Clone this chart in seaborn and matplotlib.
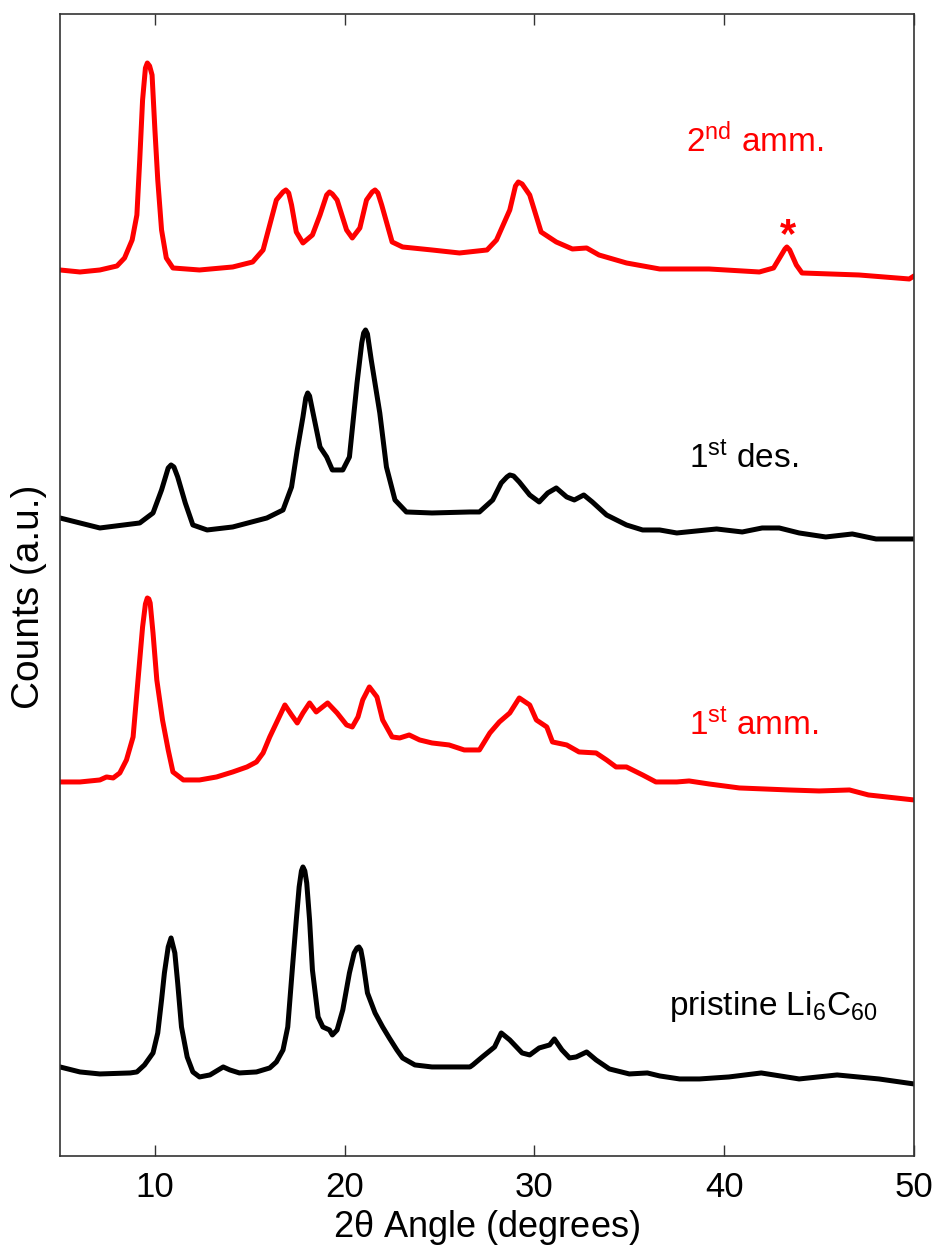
import numpy as np
import pandas as pd
import matplotlib
matplotlib.use("Agg")
import matplotlib.pyplot as plt
import seaborn as sns

# --- data (2theta in degrees, counts in arbitrary units) ---

theta_2nd_amm = [5.0, 6.05, 7.1, 8.0, 8.4, 8.8, 9.05, 9.2, 9.35, 9.5, 9.6, 9.72, 9.85, 10.0, 10.15,
                 10.35, 10.6, 10.95, 12.35, 14.1, 15.15, 15.7, 16.05, 16.4, 16.75, 16.9, 17.05,
                 17.2, 17.45, 17.8, 18.3, 18.7, 19.05, 19.2, 19.35, 19.6, 20.1, 20.4, 20.8, 21.15,
                 21.45, 21.6, 21.75, 21.95, 22.5, 23.05, 24.6, 26.05, 27.5, 28.0, 28.7, 29.0, 29.15,
                 29.35, 29.75, 30.35, 31.15, 32.0, 32.75, 33.4, 34.85, 36.6, 39.2, 41.85, 42.6,
                 43.2, 43.3, 43.45, 43.8, 44.1, 47.1, 49.75, 50.0]
counts_2nd_amm = [886, 884, 886, 890, 898, 916, 941, 996, 1056, 1088, 1093, 1090, 1081, 1026, 976,
                  926, 898, 888, 886, 889, 894, 906, 931, 956, 964, 966, 963,
                  951, 924, 913, 921, 941, 961, 964, 962, 956, 926, 918, 928, 956,
                  964, 966, 963, 951, 914, 909, 906, 903, 906, 916, 946, 970, 974,
                  972, 961, 924, 914, 907, 908, 901, 893, 887, 887, 884, 888,
                  907, 909, 906, 891, 883, 881, 877, 880]

theta_1st_des = [5.0, 7.1, 9.2, 9.9, 10.35, 10.7, 10.85, 11.0, 11.2, 11.6, 12.0, 12.75, 14.1, 15.9,
                 16.75, 17.2, 17.5, 17.8, 17.95, 18.05, 18.15, 18.3, 18.7, 19.05, 19.35, 19.9,
                 20.25, 20.65, 20.9, 21.0, 21.1, 21.2, 21.4, 21.85, 22.2, 22.65, 23.25, 24.6,
                 26.6, 27.1, 27.8, 28.25, 28.55, 28.7, 28.9, 29.2, 29.75, 30.25, 30.7, 31.15,
                 31.7, 32.1, 32.6, 33.05, 33.8, 34.85, 35.7, 36.6, 37.5, 39.6, 40.95, 42.0,
                 42.9, 43.95, 45.35, 46.75, 48.0, 50.0]
counts_1st_des = [638, 628, 633, 643, 666, 688, 691, 689, 679, 653, 631, 626, 629, 638,
                  646, 669, 706, 739, 758, 763, 760, 746, 709, 699, 686, 686,
                  699, 773, 813, 823, 826, 822, 796, 743, 689, 656, 644, 643,
                  644, 644, 656, 673, 679, 681, 680, 674, 661, 654, 663, 668,
                  659, 656, 661, 654, 641, 631, 626, 626, 623, 627, 624, 628,
                  628, 623, 619, 622, 617, 617]

theta_1st_amm = [5.0, 6.05, 7.1, 7.45, 7.8, 8.15, 8.5, 8.85, 9.05, 9.2, 9.35, 9.5, 9.6, 9.68,
                 9.75, 9.9, 10.1, 10.4, 10.7, 10.95, 11.5, 12.35, 13.25, 14.1, 14.85, 15.35, 15.7,
                 16.05, 16.4, 16.85, 17.2, 17.5, 17.8, 18.15, 18.5, 19.1, 19.6, 20.1, 20.4, 20.7,
                 20.95, 21.3, 21.7, 22.0, 22.5, 22.9, 23.4, 23.95, 24.6, 25.5, 26.3, 27.1,
                 27.65, 28.15, 28.7, 29.2, 29.75, 30.1, 30.65, 30.95, 31.7, 32.35, 33.25, 33.8,
                 34.3, 34.85, 35.7, 36.4, 37.5, 38.15, 39.2, 40.8, 43.4, 45.0, 46.6, 47.6, 50.0]
counts_1st_amm = [374, 374, 376, 379, 378, 383, 396, 419, 463, 496, 529, 552, 558, 557,
                  553, 523, 476, 436, 406, 384, 376, 376, 379, 384, 389, 394, 403,
                  419, 433, 451, 441, 433, 443, 453, 444, 453, 443, 431, 429, 439,
                  456, 469, 459, 436, 419, 418, 421, 416, 413, 411, 406, 406,
                  423, 434, 443, 458, 451, 436, 429, 414, 411, 404, 403, 396,
                  389, 389, 381, 374, 374, 375, 372, 368, 366, 365, 366, 361, 356]

theta_pristine = [5.0, 6.05, 7.1, 8.7, 9.05, 9.45, 9.9, 10.15, 10.35, 10.5, 10.7, 10.85, 11.05,
                  11.2, 11.4, 11.7, 12.0, 12.35, 12.9, 13.6, 13.95, 14.45, 15.35, 16.05, 16.4,
                  16.75, 17.0, 17.25, 17.45, 17.6, 17.72, 17.8, 17.9, 18.0, 18.15, 18.3, 18.6,
                  18.85, 19.2, 19.35, 19.6, 19.9, 20.25, 20.5, 20.65, 20.75, 20.85, 20.95, 21.2,
                  21.6, 22.0, 22.35, 22.75, 23.05, 23.7, 24.6, 26.6, 26.75, 27.25, 27.9, 28.25,
                  28.7, 29.35, 29.75, 30.25, 30.8, 31.05, 31.45, 31.85, 32.2, 32.75, 33.25,
                  33.95, 35.0, 35.95, 36.6, 37.65, 38.7, 40.25, 41.95, 43.95, 45.95, 48.15, 50.0]
counts_pristine = [89, 84, 82, 83, 84, 91, 103, 123, 156, 183, 209, 218, 203,
                   173, 129, 99, 84, 79, 81, 89, 86, 83, 84, 88, 94,
                   106, 129, 189, 236, 269, 285, 289, 285, 273, 236, 186, 139,
                   129, 126, 121, 126, 146, 183, 203, 208, 209, 206, 196, 163,
                   143, 129, 118, 106, 98, 91, 89, 89, 91, 99, 109, 123,
                   116, 103, 101, 108, 111, 117, 106, 98, 99, 104, 96,
                   87, 82, 83, 80, 77, 77, 79, 83, 77, 81, 77, 72]

x_ticks = [10, 20, 30, 40, 50]

# --- style ---
sns.set_style("white")
plt.rcParams['font.family'] = ['Liberation Sans', 'DejaVu Sans']
plt.rcParams['mathtext.fontset'] = 'custom'
plt.rcParams['mathtext.rm'] = 'Liberation Sans'
plt.rcParams['mathtext.it'] = 'Liberation Sans:italic'
plt.rcParams['mathtext.bf'] = 'Liberation Sans:bold'
plt.rcParams['text.color'] = 'black'
plt.rcParams['axes.labelcolor'] = 'black'

fig, ax = plt.subplots(figsize=(9.38, 12.49), dpi=100)
fig.subplots_adjust(left=0.064, right=0.9744, bottom=0.0745, top=0.9888)

traces = [
    (theta_2nd_amm, counts_2nd_amm, "red"),
    (theta_1st_des, counts_1st_des, "black"),
    (theta_1st_amm, counts_1st_amm, "red"),
    (theta_pristine, counts_pristine, "black"),
]
for th, cnt, col in traces:
    sns.lineplot(x=th, y=cnt, ax=ax, color=col, linewidth=3.6, sort=False)

ax.set_xlim(5, 50)
ax.set_ylim(0, 1142)
ax.set_xticks(x_ticks)
ax.set_yticks([])

for s in ax.spines.values():
    s.set_color("#333333")
    s.set_linewidth(1.2)

ax.tick_params(axis='x', direction='in', top=True, bottom=True, length=8, width=1,
               color="#333333", labelcolor="black", labelsize=25, pad=11)

ax.set_xlabel(r"2$\mathrm{\theta}$ Angle (degrees)", fontsize=26, labelpad=3)
ax.set_ylabel("Counts (a.u.)", fontsize=28)
ax.yaxis.set_label_coords(-0.0155, 0.49)

# labels of the patterns
ax.text(38.0, 1004, r"2$^{\mathrm{nd}}$ amm.", color="red", fontsize=24, va="baseline")
ax.text(43.35, 909, "*", color="red", fontsize=30, fontweight="bold", ha="center", va="baseline")
ax.text(38.15, 688, r"1$^{\mathrm{st}}$ des.", color="black", fontsize=24, va="baseline")
ax.text(38.15, 421, r"1$^{\mathrm{st}}$ amm.", color="red", fontsize=24, va="baseline")
ax.text(37.1, 141, r"pristine Li$_{6}$C$_{60}$", color="black", fontsize=24, va="baseline")

plt.savefig("out.png", dpi=100)
